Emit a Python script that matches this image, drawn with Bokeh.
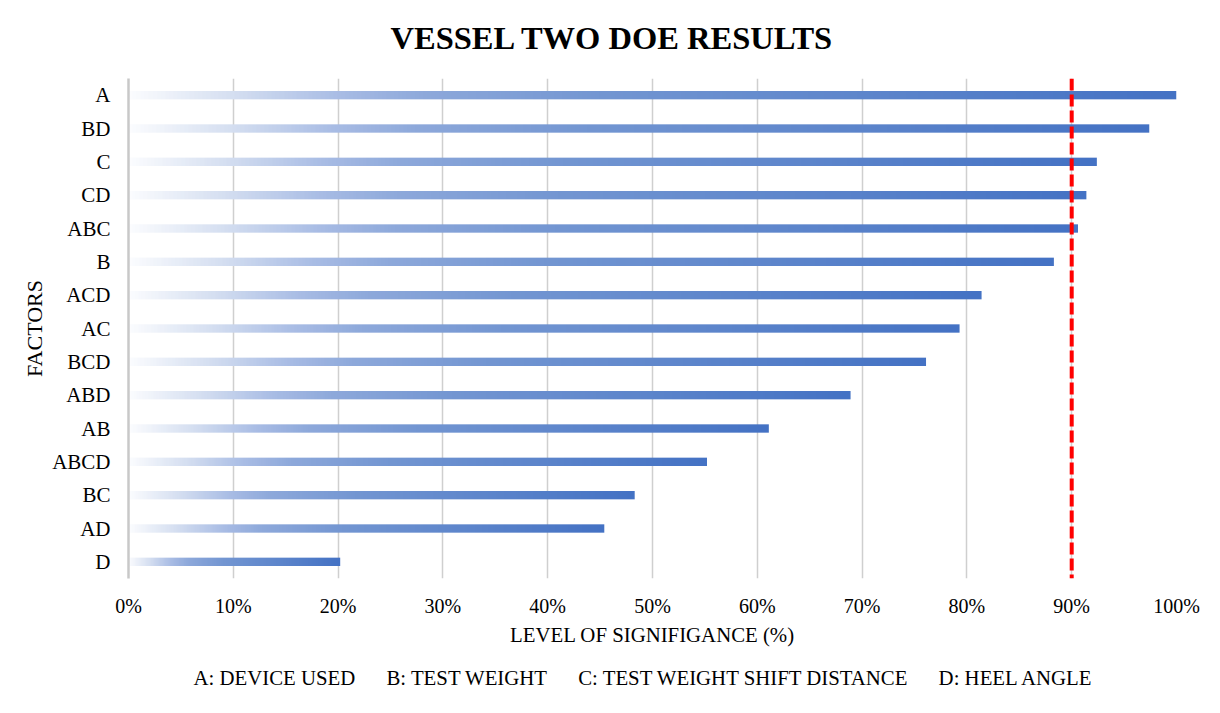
import numpy as np
from bokeh.plotting import figure
from bokeh.models import Span, NumeralTickFormatter, FixedTicker, Title
from bokeh.embed import file_html
from bokeh.resources import INLINE

# ---- data ----
factors = ["A", "BD", "C", "CD", "ABC", "B", "ACD", "AC", "BCD", "ABD", "AB", "ABCD", "BC", "AD", "D"]
significance = [1.000, 0.974, 0.924, 0.914, 0.906, 0.883, 0.814, 0.793, 0.761, 0.689, 0.611, 0.552, 0.483, 0.454, 0.202]
x_ticks = [0.0, 0.1, 0.2, 0.3, 0.4, 0.5, 0.6, 0.7, 0.8, 0.9, 1.0]
threshold = 0.90
chart_title = "VESSEL TWO DOE RESULTS"
legend_items = ["A: DEVICE USED", "B: TEST WEIGHT", "C: TEST WEIGHT SHIFT DISTANCE", "D: HEEL ANGLE"]

# gradient stops (fraction of bar length -> rgb)
stops = [(0.00, (252, 253, 255)), (0.10, (213, 223, 241)), (0.20, (169, 189, 229)),
         (0.28, (142, 169, 219)), (0.45, (115, 150, 210)), (1.00, (68, 114, 196))]

W = 256
t = (np.arange(W) + 0.5) / W
sp = np.array([s[0] for s in stops])
rgb = np.stack([np.interp(t, sp, [s[1][k] for s in stops]) for k in range(3)], axis=-1).astype(np.uint8)
grad_img = np.zeros((1, W), dtype=np.uint32)
view = grad_img.view(dtype=np.uint8).reshape((1, W, 4))
view[0, :, 0] = rgb[:, 0]
view[0, :, 1] = rgb[:, 1]
view[0, :, 2] = rgb[:, 2]
view[0, :, 3] = 255

n = len(factors)
ypos = [n - 1 - i for i in range(n)]
bar_h = 0.25

FONT = "Liberation Serif"

p = figure(width=1204, height=703, output_backend="svg", toolbar_location=None,
           y_range=(-0.5, n - 0.5), x_range=(0, 1.0),
           min_border_left=128, min_border_right=28, min_border_top=78, min_border_bottom=119)

# spacer between frame and title (nearest to the frame), then the title itself
spacer = Title(text="\u00a0", text_font=FONT, text_font_size="17px", standoff=0)
p.add_layout(spacer, "above")
main_title = Title(text=chart_title, align="left", offset=262, text_font=FONT, text_font_size="32.5px",
                   text_font_style="bold", text_color="black", standoff=4)
p.add_layout(main_title, "above")

p.image_rgba(image=[grad_img] * n, x=[0] * n, y=[yp - bar_h / 2 for yp in ypos],
             dw=significance, dh=[bar_h] * n)

p.add_layout(Span(location=threshold, dimension="height", line_color="#FF0000", line_width=4, line_dash="12 4"))

p.outline_line_color = None
p.ygrid.grid_line_color = None
p.xgrid.grid_line_color = "#CFCFCF"
p.xgrid.grid_line_width = 1.5
p.xgrid.ticker = FixedTicker(ticks=x_ticks)

p.xaxis.ticker = FixedTicker(ticks=x_ticks)
p.xaxis.formatter = NumeralTickFormatter(format="0%")
p.xaxis.axis_line_color = None
p.xaxis.major_tick_line_color = None
p.xaxis.minor_tick_line_color = None
p.xaxis.major_label_text_font = FONT
p.xaxis.major_label_text_font_size = "20px"
p.xaxis.major_label_text_color = "black"
p.xaxis.major_label_standoff = 10
p.xaxis.axis_label = "LEVEL OF SIGNIFIGANCE (%)"
p.xaxis.axis_label_text_font = FONT
p.xaxis.axis_label_text_font_size = "20.8px"
p.xaxis.axis_label_text_font_style = "normal"
p.xaxis.axis_label_text_color = "black"
p.xaxis.axis_label_standoff = 3

p.yaxis.ticker = FixedTicker(ticks=ypos)
p.yaxis.major_label_overrides = {yp: f for yp, f in zip(ypos, factors)}
p.yaxis.axis_line_color = "#C8C8C8"
p.yaxis.axis_line_width = 2.5
p.yaxis.major_tick_line_color = None
p.yaxis.minor_tick_line_color = None
p.yaxis.major_label_text_font = FONT
p.yaxis.major_label_text_font_size = "21px"
p.yaxis.major_label_text_color = "black"
p.yaxis.major_label_standoff = 12
p.yaxis.axis_label = "FACTORS"
p.yaxis.axis_label_text_font = FONT
p.yaxis.axis_label_text_font_size = "22px"
p.yaxis.axis_label_text_font_style = "normal"
p.yaxis.axis_label_text_color = "black"
p.yaxis.axis_label_standoff = 2

gap = "\u00a0" * 6
legend = Title(text=gap.join(legend_items), align="left", offset=65, text_font=FONT, text_font_size="20.8px",
               text_font_style="normal", text_color="black", standoff=30)
p.add_layout(legend, "below")

open("out.html", "w").write(file_html(p, INLINE))
